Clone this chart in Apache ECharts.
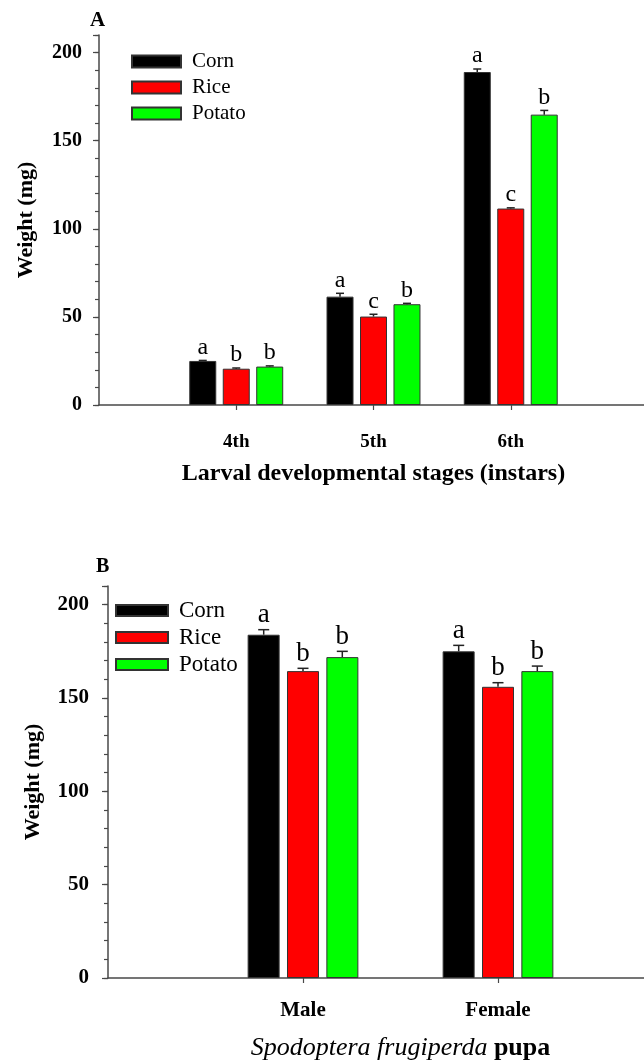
<!DOCTYPE html>
<html>
<head>
<meta charset="utf-8">
<script src="https://cdn.jsdelivr.net/npm/echarts@6/dist/echarts.min.js"></script>
<style>
  html, body { margin: 0; padding: 0; background: #fff; }
  #chart { width: 644px; height: 1061px; }
</style>
</head>
<body>
<div id="chart"></div>
<script>
// panel A: larval stages
const stagesA = ['', '4th', '5th', '6th', '']
const cornA = [25.0, 61.5, 189.0]
const riceA = [20.6, 50.2, 111.5]
const potatoA = [21.8, 57.2, 164.8]
const cornSeA = [0.3, 1.9, 1.7]
const riceSeA = [0.4, 1.3, 0.4]
const potatoSeA = [0.4, 0.5, 2.4]
const lettersA = [['a', 'a', 'a'], ['b', 'c', 'c'], ['b', 'b', 'b']]

// panel B: pupa
const sexB = ['', 'Male', 'Female', '']
const cornB = [183.9, 175.0]
const riceB = [164.4, 156.0]
const potatoB = [171.9, 164.4]
const cornSeB = [2.7, 3.2]
const riceSeB = [1.5, 2.2]
const potatoSeB = [3.1, 2.7]
const lettersB = [['a', 'a'], ['b', 'b'], ['b', 'b']]

const names = ['Corn', 'Rice', 'Potato']
const colors = ['#000000', '#ff0000', '#00ff00']
const font = '"Liberation Serif", "Times New Roman", serif'
const axisColor = '#484848'

const chart = echarts.init(document.getElementById('chart'))

function barSeries(vals, idx, axis, barWidth, barGap) {
  return {
    name: names[idx],
    type: 'bar',
    xAxisIndex: axis,
    yAxisIndex: axis * 2,
    barWidth: barWidth,
    barGap: barGap,
    itemStyle: { color: colors[idx], borderColor: '#333', borderWidth: 1 },
    data: vals.map((v, i) => [i + 1, v]),
  }
}

function errSeries(groups, ses, letters, axis, step, capW, fontSize) {
  const data = []
  const labels = []
  groups.forEach((vals, s) => {
    vals.forEach((v, i) => {
      data.push([i + 1, s, v, v + ses[s][i]])
      labels.push(letters[s][i])
    })
  })
  return {
    type: 'custom',
    xAxisIndex: axis,
    yAxisIndex: axis * 2,
    silent: true,
    z: 5,
    encode: { x: 0, y: [2, 3] },
    data: data,
    renderItem: (params, api) => {
      const off = (api.value(1) - 1) * step
      const p = api.coord([api.value(0), api.value(2)])
      const q = api.coord([api.value(0), api.value(3)])
      const x = p[0] + off
      const lineStyle = { stroke: '#222', lineWidth: 1.5 }
      return {
        type: 'group',
        children: [
          { type: 'line', shape: { x1: x, y1: p[1], x2: x, y2: q[1] }, style: lineStyle },
          { type: 'line', shape: { x1: x - capW / 2, y1: q[1], x2: x + capW / 2, y2: q[1] }, style: lineStyle },
          {
            type: 'text',
            style: {
              text: labels[params.dataIndex],
              x: x,
              y: q[1] - 1,
              textAlign: 'center',
              textVerticalAlign: 'bottom',
              fill: '#000',
              font: fontSize + 'px ' + font,
            },
          },
        ],
      }
    },
  }
}

function yAxes(grid, labelSize, margin, nameGap) {
  return [
    {
      type: 'value',
      gridIndex: grid,
      position: 'left',
      min: 0,
      max: 210,
      interval: 10,
      name: 'Weight (mg)',
      nameLocation: 'middle',
      nameRotate: 90,
      nameGap: nameGap,
      nameTextStyle: { color: '#000', fontFamily: font, fontWeight: 'bold', fontSize: 22 },
      axisLine: { show: true, lineStyle: { color: axisColor, width: 1.5 } },
      axisTick: { show: true, length: 4, lineStyle: { color: axisColor, width: 1.2 } },
      axisLabel: {
        color: '#000',
        fontFamily: font,
        fontWeight: 'bold',
        fontSize: labelSize,
        margin: margin,
        formatter: v => (v % 50 === 0 ? v : ''),
      },
      splitLine: { show: false },
    },
    {
      type: 'value',
      gridIndex: grid,
      position: 'left',
      offset: 0,
      min: 0,
      max: 210,
      interval: 50,
      axisLine: { show: false },
      axisTick: { show: true, length: 6, lineStyle: { color: axisColor, width: 1.2 } },
      axisLabel: { show: false },
      splitLine: { show: false },
    },
  ]
}

function xAxis(grid, cats, labelSize, margin, name, nameGap, nameStyle) {
  return {
    type: 'category',
    gridIndex: grid,
    data: cats,
    boundaryGap: false,
    name: name,
    nameLocation: 'middle',
    nameGap: nameGap,
    nameTextStyle: nameStyle,
    axisLine: { lineStyle: { color: axisColor, width: 1.5 } },
    axisTick: {
      show: true,
      length: 5,
      interval: i => i > 0 && i < cats.length - 1,
      lineStyle: { color: axisColor, width: 1.2 },
    },
    axisLabel: {
      color: '#000',
      fontFamily: font,
      fontWeight: 'bold',
      fontSize: labelSize,
      margin: margin,
      interval: 0,
    },
    splitLine: { show: false },
  }
}

const option = {
  backgroundColor: '#fff',
  animation: false,
  grid: [
    { left: 99, top: 35, width: 549, height: 370, outerBoundsMode: 'none' },
    { left: 108, top: 586, width: 585, height: 392, outerBoundsMode: 'none' },
  ],
  legend: [
    {
      data: names,
      orient: 'vertical',
      left: 131,
      top: 51,
      padding: 0,
      itemWidth: 49,
      itemHeight: 12,
      itemGap: 5,
      icon: 'rect',
      textStyle: { color: '#000', fontFamily: font, fontSize: 21, padding: [0, 0, 0, 6] },
    },
    {
      data: names,
      orient: 'vertical',
      left: 115,
      top: 599,
      padding: 0,
      itemWidth: 52,
      itemHeight: 11,
      itemGap: 4,
      icon: 'rect',
      textStyle: { color: '#000', fontFamily: font, fontSize: 23, padding: [0, 0, 0, 6] },
    },
  ],
  graphic: [
    {
      type: 'text',
      left: 90,
      top: 10,
      style: { text: 'A', fill: '#000', font: 'bold 21px ' + font },
    },
    {
      type: 'text',
      left: 96,
      top: 557,
      style: { text: 'B', fill: '#000', font: 'bold 20px ' + font },
    },
  ],
  xAxis: [
    xAxis(0, stagesA, 19, 28, 'Larval developmental stages (instars)', 57, {
      color: '#000',
      fontFamily: font,
      fontWeight: 'bold',
      fontSize: 24,
    }),
    xAxis(1, sexB, 21, 22, '{i|Spodoptera frugiperda} {b|pupa}', 57, {
      color: '#000',
      fontFamily: font,
      fontSize: 26,
      rich: {
        i: { fontFamily: font, fontStyle: 'italic', fontSize: 26, color: '#000' },
        b: { fontFamily: font, fontWeight: 'bold', fontSize: 26, color: '#000' },
      },
    }),
  ],
  yAxis: [...yAxes(0, 20, 17, 62), ...yAxes(1, 21, 19, 64)],
  series: [
    barSeries(cornA, 0, 0, 27, '24%'),
    barSeries(riceA, 1, 0, 27, '24%'),
    barSeries(potatoA, 2, 0, 27, '24%'),
    errSeries([cornA, riceA, potatoA], [cornSeA, riceSeA, potatoSeA], lettersA, 0, 33.5, 8, 24),
    barSeries(cornB, 0, 1, 32, '23%'),
    barSeries(riceB, 1, 1, 32, '23%'),
    barSeries(potatoB, 2, 1, 32, '23%'),
    errSeries([cornB, riceB, potatoB], [cornSeB, riceSeB, potatoSeB], lettersB, 1, 39.3, 11, 27),
  ],
}

chart.setOption(option)
window.addEventListener('resize', () => chart.resize())
</script>
</body>
</html>
